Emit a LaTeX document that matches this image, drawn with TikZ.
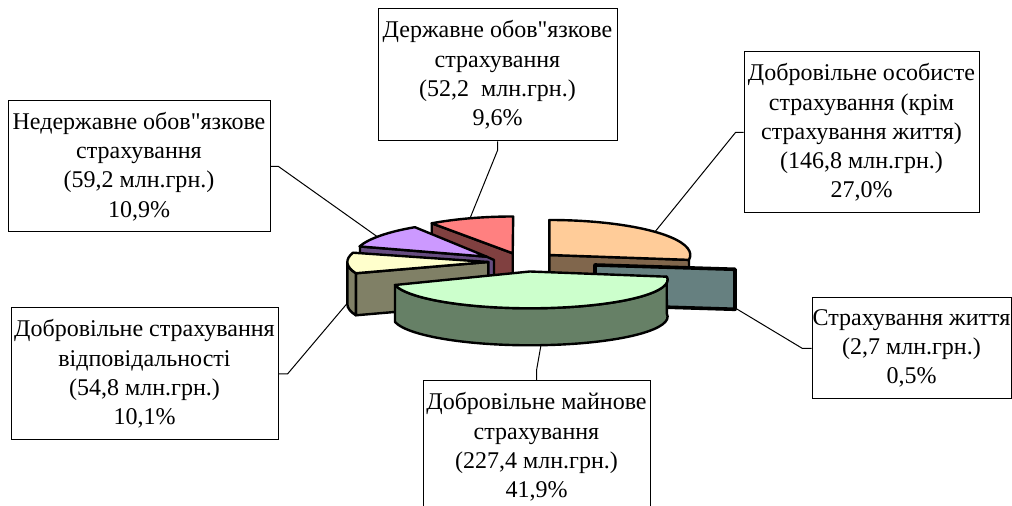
\documentclass[tikz,border=0pt]{standalone}
\usepackage{fontspec}
\setmainfont{Liberation Serif}[Ligatures=TeXOff]
\definecolor{redtop}{HTML}{FF8080}
\definecolor{redside}{HTML}{804040}
\definecolor{orangetop}{HTML}{FFCC99}
\definecolor{orangeside}{HTML}{80664C}
\definecolor{violettop}{HTML}{CC99FF}
\definecolor{violetside}{HTML}{664C80}
\definecolor{yellowtop}{HTML}{FFFFCC}
\definecolor{yellowside}{HTML}{808066}
\definecolor{tealside}{HTML}{668080}
\definecolor{greentop}{HTML}{CCFFCC}
\definecolor{greenside}{HTML}{668066}

\begin{document}
\begin{tikzpicture}[x=0.5pt,y=-0.5pt,slice/.style={draw=black,line width=1.2pt,line join=round},lbl/.style={draw,line width=0.5pt,align=center,inner sep=0pt,font=\fontsize{12}{14.6}\selectfont},lead/.style={draw,line width=0.5pt}]
                        \useasboundingbox (0,0) rectangle (1012,506);
                        % pie, back to front
                        \filldraw[slice,fill=redside] (431.7,223.3) -- (512.7,253.3) -- (512.7,293.3) -- (431.7,263.3) -- cycle;
                        \filldraw[slice,fill=redtop] (512.7,253.3) -- (431.7,223.3) arc[start angle=-125.3,end angle=-90,x radius=141,y radius=37] -- cycle;
                        \filldraw[slice,fill=orangeside] (549.3,255) -- (689,259.9) -- (689,299.9) -- (549.3,295) -- cycle;
                        \filldraw[slice,fill=orangetop] (549.3,255) -- (549.3,220) arc[start angle=-90,end angle=8,x radius=141,y radius=35] -- cycle;
                        \filldraw[slice,fill=violetside] (360,246.5) -- (486.7,256.7) -- (494,260) -- (494,300) -- (360,288) -- cycle;
                        \filldraw[slice,fill=violettop] (486.7,256.7) -- (414.9,227.2) arc[start angle=-122.7,end angle=-163,x radius=133,y radius=35] -- cycle;
                        \filldraw[slice,fill=yellowside] (355.8,273.3) -- (488.3,262) -- (488.3,304) -- (355.8,315.3) -- cycle;
                        \filldraw[slice,fill=yellowside] (347.3,262) -- (347.3,304) arc[start angle=180,end angle=160,x radius=141,y radius=33] -- (355.8,273.3) arc[start angle=160,end angle=180,x radius=141,y radius=33] -- cycle;
                        \filldraw[slice,fill=yellowtop] (488.3,262) -- (353,252.7) arc[start angle=196.3,end angle=160,x radius=141,y radius=33] -- cycle;
                        \filldraw[slice,line width=1.8pt,fill=tealside] (595,265) -- (735,269.3) -- (735,309.3) -- (595,305) -- cycle;
                        \filldraw[slice,fill=greenside] (395,285) -- (395,322) arc[start angle=169.3,end angle=-6,x radius=137.5,y radius=28.6] -- (666.7,276.7) arc[start angle=-6,end angle=169.3,x radius=137.5,y radius=28.6] -- cycle;
                        \filldraw[slice,fill=greentop] (530,271.5) -- (395,285) arc[start angle=169.3,end angle=-6,x radius=137.5,y radius=28.6] -- cycle;
                        % where the leaders touch the pie
                        \coordinate (nederzh-pt) at (377,236.5);
                        \coordinate (derzh-pt) at (470,218.3);
                        \coordinate (osob-pt) at (655,231.8);
                        \coordinate (zhyttia-pt) at (736,308.5);
                        \coordinate (maino-pt) at (541,345);
                        \coordinate (vidp-pt) at (347.5,303);
                        % labels
                        \node[lbl,minimum width=131pt,minimum height=65.5pt] (nederzh) at (139,166.5) {Недержавне обов"язкове\\страхування\\(59,2 млн.грн.)\\10,9\%};
                        \node[lbl,minimum width=119.5pt,minimum height=66pt] (derzh) at (497.5,75) {Державне обов"язкове\\страхування\\(52,2~~млн.грн.)\\9,6\%};
                        \node[lbl,minimum width=117.5pt,minimum height=80.5pt] (osob) at (861.5,132.5) {Добровільне особисте\\страхування (крім\\страхування життя)\\(146,8 млн.грн.)\\27,0\%};
                        \node[lbl,minimum width=99.5pt,minimum height=50.5pt] (zhyttia) at (911.5,348.5) {Страхування життя\\(2,7 млн.грн.)\\0,5\%};
                        \node[lbl,minimum width=113.5pt,minimum height=66pt] (maino) at (536.5,447) {Добровільне майнове\\страхування\\(227,4 млн.грн.)\\41,9\%};
                        \node[lbl,minimum width=133.5pt,minimum height=66pt] (vidp) at (144.5,374) {Добровільне страхування\\відповідальності\\(54,8 млн.грн.)\\10,1\%};
                        \path[lead]
                        (nederzh.east) -- ++(8,0) -- (nederzh-pt)
                        (derzh.south) -- ++(0,9) -- (derzh-pt)
                        (osob.west) -- ++(-8,0) -- (osob-pt)
                        (zhyttia.west) -- ++(-9,0) -- (zhyttia-pt)
                        (maino.north) -- ++(0,-10) -- (maino-pt)
                        (vidp.east) -- ++(9,0) -- (vidp-pt)
                        ;
                        \end{tikzpicture}
\end{document}
